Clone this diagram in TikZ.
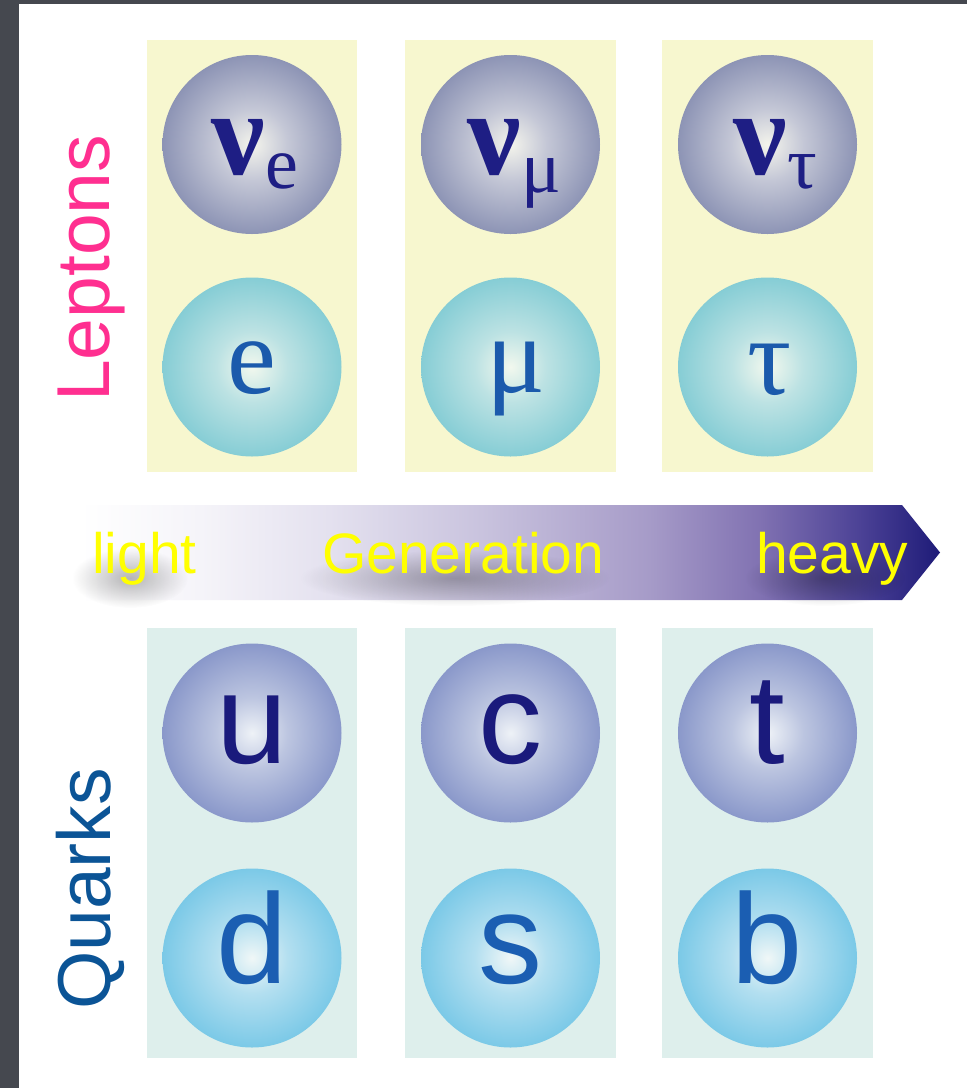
\documentclass[tikz,border=0pt]{standalone}
\usepackage{fontspec}
\setmainfont{Liberation Serif}
\newfontfamily\hsans{Liberation Sans}
\usetikzlibrary{fadings}
\definecolor{bgdark}{HTML}{45484F}
\definecolor{lepbox}{HTML}{F7F7CF}
\definecolor{qbox}{HTML}{DEEFEC}
\definecolor{nuEdge}{HTML}{8D94B5}
\definecolor{nuMid}{HTML}{C4C7D6}
\definecolor{nuCtr}{HTML}{F4F4EC}
\definecolor{lEdge}{HTML}{86CDD5}
\definecolor{lMid}{HTML}{BCE2E3}
\definecolor{lCtr}{HTML}{F2F8EE}
\definecolor{uEdge}{HTML}{8A98CA}
\definecolor{uMid}{HTML}{BCC5E0}
\definecolor{uCtr}{HTML}{EEF2F7}
\definecolor{dEdge}{HTML}{7BC9E7}
\definecolor{dMid}{HTML}{B3DFF0}
\definecolor{dCtr}{HTML}{F0F7F7}
\definecolor{nuTxt}{HTML}{1E1E84}
\definecolor{lTxt}{HTML}{1B5AAC}
\definecolor{uTxt}{HTML}{1A1A7C}
\definecolor{dTxt}{HTML}{1B5EB2}
\definecolor{lepLbl}{HTML}{FF2F90}
\definecolor{qLbl}{HTML}{0B5496}
\definecolor{gA}{HTML}{F5F4F9}
\definecolor{gB}{HTML}{E4E1EF}
\definecolor{gC}{HTML}{C9C3DE}
\definecolor{gD}{HTML}{A69BC8}
\definecolor{gE}{HTML}{8172B2}
\definecolor{gF}{HTML}{4C4296}
\definecolor{gG}{HTML}{1E1B78}
\definecolor{genYellow}{HTML}{FFFF00}
\pgfdeclareradialshading{nushade}{\pgfpoint{0bp}{0bp}}{color(0bp)=(nuCtr); color(10bp)=(nuMid); color(25bp)=(nuEdge); color(50bp)=(nuEdge)}
\pgfdeclareradialshading{lshade}{\pgfpoint{0bp}{0bp}}{color(0bp)=(lCtr); color(10bp)=(lMid); color(25bp)=(lEdge); color(50bp)=(lEdge)}
\pgfdeclareradialshading{ushade}{\pgfpoint{0bp}{0bp}}{color(0bp)=(uCtr); color(10bp)=(uMid); color(25bp)=(uEdge); color(50bp)=(uEdge)}
\pgfdeclareradialshading{dshade}{\pgfpoint{0bp}{0bp}}{color(0bp)=(dCtr); color(10bp)=(dMid); color(25bp)=(dEdge); color(50bp)=(dEdge)}
\pgfdeclarehorizontalshading{genshade}{100bp}{color(0bp)=(white); color(25bp)=(white); color(32bp)=(gA); color(39.5bp)=(gB); color(48.3bp)=(gC); color(58.1bp)=(gD); color(64.5bp)=(gE); color(70.3bp)=(gF); color(75bp)=(gG); color(100bp)=(gG)}
\tikzfading[name=softfade, inner color=transparent!0, outer color=transparent!100]
\tikzset{
  ball/.style={circle, minimum size=179pt, inner sep=0pt, shade},
  nuball/.style={ball, shading=nushade},
  lball/.style={ball, shading=lshade},
  uball/.style={ball, shading=ushade},
  dball/.style={ball, shading=dshade},
  nulbl/.style={anchor=base, inner sep=0pt, text=nuTxt, font=\fontsize{120}{120}\selectfont},
  llbl/.style={anchor=base, inner sep=0pt, text=lTxt, font=\fontsize{110}{110}\selectfont},
  ulbl/.style={anchor=base, inner sep=0pt, text=uTxt, font=\hsans\fontsize{128}{128}\selectfont},
  dlbl/.style={anchor=base, inner sep=0pt, text=dTxt, font=\hsans\fontsize{128}{128}\selectfont},
  famlbl/.style={anchor=base west, inner sep=0pt, rotate=90, font=\hsans\fontsize{75}{75}\selectfont},
  gentxt/.style={anchor=base west, inner sep=0pt, text=genYellow, font=\hsans\fontsize{57}{57}\selectfont},
  txtshadow/.style={fill=black, opacity=0.28, path fading=softfade},
}
\newcommand{\subsc}[1]{\raisebox{-14pt}{\fontsize{74}{74}\selectfont\mdseries #1}}
\begin{document}
\begin{tikzpicture}[x=1pt, y=-1pt]
\useasboundingbox (0,0) rectangle (967,1088);
\fill[bgdark] (0,0) rectangle (967,1088);
\fill[white] (19,4) rectangle (967,1088);
% columns
\fill[lepbox] (147,40) rectangle (357,472);
\fill[lepbox] (405,40) rectangle (616,472);
\fill[lepbox] (662,40) rectangle (873,472);
\fill[qbox] (147,628) rectangle (357,1058);
\fill[qbox] (405,628) rectangle (616,1058);
\fill[qbox] (662,628) rectangle (873,1058);
% leptons
\node[nuball] (nue) at (252,144.5) {};
\node[nuball] (num) at (510.5,144.5) {};
\node[nuball] (nut) at (767.5,144.5) {};
\node[lball] (el) at (252,367) {};
\node[lball] (mul) at (510.5,367) {};
\node[lball] (tal) at (767.5,367) {};
\node[nulbl] (nueT) at ([shift={(3,30)}]nue.center) {\textbf{ν}\subsc{e}};
\node[nulbl] (numT) at ([shift={(4,30)}]num.center) {\textbf{ν}\raisebox{-4pt}{\subsc{μ}}};
\node[nulbl] (nutT) at ([shift={(8,30)}]nut.center) {\textbf{ν}\subsc{τ}};
\node[llbl] (elT) at ([shift={(0,26)}]el.center) {e};
\node[llbl] (muT) at ([shift={(5,25)}]mul.center) {μ};
\node[llbl] (taT) at ([shift={(2,27)}]tal.center) {τ};
% quarks
\node[uball] (uq) at (252,733) {};
\node[uball] (cq) at (510.5,733) {};
\node[uball] (tq) at (767.5,733) {};
\node[dball] (dq) at (252,958) {};
\node[dball] (sq) at (510.5,958) {};
\node[dball] (bq) at (767.5,958) {};
\node[ulbl] (uT) at ([shift={(0,30)}]uq.center) {u};
\node[ulbl] (cT) at ([shift={(0,30)}]cq.center) {c};
\node[ulbl] (tT) at ([shift={(0,30)}]tq.center) {t};
\node[dlbl] (dT) at ([shift={(0,25)}]dq.center) {d};
\node[dlbl] (sT) at ([shift={(0,25)}]sq.center) {s};
\node[dlbl] (bT) at ([shift={(0,25)}]bq.center) {b};
% family labels
\node[famlbl, text=lepLbl] (lep) at (109,402) {Leptons};
\node[famlbl, text=qLbl] (qrk) at (110,1010) {Quarks};
% generation arrow
\shade[shading=genshade] (80,505) -- (902,505) -- (940,552.5) -- (902,600) -- (80,600) -- cycle;
\fill[txtshadow] (130,578) ellipse (58 and 30);
\fill[txtshadow] (455,578) ellipse (155 and 28);
\fill[txtshadow] (825,578) ellipse (80 and 28);
\node[gentxt] (light) at (92,573) {light};
\node[gentxt] (gen) at (322,573) {Generation};
\node[gentxt] (heavy) at (756,573) {heavy};
\end{tikzpicture}
\end{document}
